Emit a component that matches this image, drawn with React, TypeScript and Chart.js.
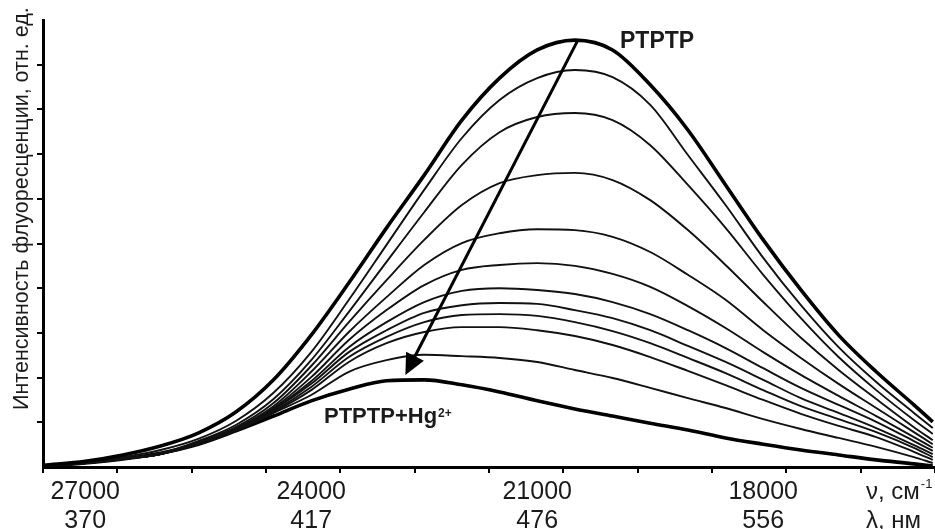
import React, { useEffect, useRef } from "react";
import { Chart, registerables } from "chart.js";

Chart.register(...registerables);

// wavenumber, cm^-1 (left to right)
const wavenumbers = [27550, 27000, 26500, 26000, 25500, 25000, 24500, 24000, 23500, 23000, 22500, 22000, 21500, 21000, 20500, 20000, 19500, 19000, 18500, 18000, 17500, 17000, 16500, 16000, 15750];

// fluorescence intensity, arbitrary units
const ptptp = [0.04, 0.13, 0.27, 0.47, 0.76, 1.23, 1.95, 2.95, 4.12, 5.35, 6.53, 7.76, 8.70, 9.33, 9.55, 9.33, 8.55, 7.54, 6.31, 5.08, 3.96, 2.95, 2.13, 1.39, 1.01];
const step1 = [0.02, 0.11, 0.22, 0.38, 0.63, 1.03, 1.66, 2.57, 3.74, 4.97, 6.20, 7.36, 8.21, 8.70, 8.88, 8.72, 8.10, 6.98, 5.86, 4.68, 3.62, 2.68, 1.90, 1.21, 0.87];
const step2 = [0.02, 0.09, 0.18, 0.31, 0.58, 0.94, 1.52, 2.39, 3.47, 4.59, 5.70, 6.76, 7.49, 7.83, 7.92, 7.76, 7.20, 6.31, 5.35, 4.30, 3.33, 2.46, 1.72, 1.05, 0.74];
const step3 = [0.02, 0.09, 0.18, 0.29, 0.56, 0.89, 1.43, 2.26, 3.24, 4.18, 5.08, 5.86, 6.35, 6.53, 6.58, 6.42, 5.97, 5.30, 4.52, 3.69, 2.89, 2.17, 1.52, 0.89, 0.60];
const step4 = [0.02, 0.09, 0.18, 0.29, 0.56, 0.87, 1.36, 2.13, 3.02, 3.80, 4.52, 5.01, 5.23, 5.32, 5.30, 5.15, 4.81, 4.30, 3.74, 3.06, 2.44, 1.86, 1.32, 0.78, 0.51];
const step5 = [0.02, 0.09, 0.18, 0.29, 0.54, 0.85, 1.32, 2.01, 2.84, 3.51, 4.07, 4.41, 4.52, 4.56, 4.50, 4.32, 4.03, 3.60, 3.11, 2.57, 2.06, 1.59, 1.14, 0.67, 0.43];
const step6 = [0.02, 0.09, 0.18, 0.29, 0.54, 0.85, 1.30, 1.92, 2.68, 3.24, 3.69, 3.94, 4.00, 3.96, 3.87, 3.69, 3.42, 3.06, 2.66, 2.21, 1.77, 1.39, 1.01, 0.58, 0.36];
const step7 = [0.02, 0.09, 0.18, 0.29, 0.54, 0.83, 1.28, 1.86, 2.57, 3.06, 3.45, 3.62, 3.67, 3.65, 3.51, 3.33, 3.06, 2.71, 2.35, 1.95, 1.54, 1.21, 0.87, 0.49, 0.29];
const step8 = [0.02, 0.09, 0.18, 0.29, 0.51, 0.83, 1.25, 1.79, 2.46, 2.91, 3.24, 3.40, 3.42, 3.38, 3.24, 3.04, 2.77, 2.44, 2.10, 1.72, 1.36, 1.07, 0.78, 0.43, 0.22];
const step9 = [0.02, 0.09, 0.18, 0.29, 0.51, 0.83, 1.23, 1.72, 2.35, 2.77, 3.02, 3.13, 3.13, 3.06, 2.93, 2.73, 2.46, 2.15, 1.83, 1.50, 1.19, 0.92, 0.67, 0.34, 0.16];
const step10 = [0.02, 0.09, 0.18, 0.29, 0.51, 0.81, 1.21, 1.61, 2.13, 2.39, 2.51, 2.48, 2.44, 2.35, 2.17, 1.99, 1.77, 1.54, 1.32, 1.07, 0.85, 0.65, 0.45, 0.22, 0.09];
const ptptpHg = [0.02, 0.09, 0.18, 0.31, 0.51, 0.81, 1.14, 1.48, 1.74, 1.93, 1.95, 1.84, 1.68, 1.48, 1.30, 1.14, 0.98, 0.83, 0.65, 0.51, 0.38, 0.27, 0.16, 0.07, 0.02];

const thinSeries = [step1, step2, step3, step4, step5, step6, step7, step8, step9, step10];

// axis labels
const nuTickLabels = [27000, 24000, 21000, 18000];
const lambdaTickLabels = ["370", "417", "476", "556"];
const yTickValues = [1, 2, 3, 4, 5, 6, 7, 8, 9];

// arrow (data coordinates): from PTPTP maximum to PTPTP+Hg curve
const arrowFrom = { nu: 20460, v: 9.55 };
const arrowTo = { nu: 22750, v: 2.06 };

const labelTop = "PTPTP";
const labelBottom = "PTPTP+Hg";
const labelBottomSup = "2+";
const yTitle = "Интенсивность флуоресценции, отн. ед.";

const FONT = '"Liberation Sans", Arial, Helvetica, sans-serif';
const INK = "#1b1b1b";

const overlay = {
  id: "overlay",
  afterDatasetsDraw(chart: any) {
    const { ctx, scales } = chart;
    const x = scales.x;
    const y = scales.y;
    ctx.save();
    const x1 = x.getPixelForValue(arrowFrom.nu);
    const y1 = y.getPixelForValue(arrowFrom.v);
    const x2 = x.getPixelForValue(arrowTo.nu);
    const y2 = y.getPixelForValue(arrowTo.v);
    const dx = x2 - x1;
    const dy = y2 - y1;
    const len = Math.hypot(dx, dy);
    const ux = dx / len;
    const uy = dy / len;
    const headLen = 21;
    const headHalf = 10;
    const bx = x2 - ux * headLen;
    const by = y2 - uy * headLen;
    ctx.strokeStyle = "#000";
    ctx.lineWidth = 3;
    ctx.beginPath();
    ctx.moveTo(x1, y1);
    ctx.lineTo(bx + ux * 2, by + uy * 2);
    ctx.stroke();
    ctx.fillStyle = "#000";
    ctx.beginPath();
    ctx.moveTo(x2, y2);
    ctx.lineTo(bx - uy * headHalf, by + ux * headHalf);
    ctx.lineTo(bx + uy * headHalf, by - ux * headHalf);
    ctx.closePath();
    ctx.fill();
    ctx.restore();
  },
  afterDraw(chart: any) {
    const { ctx, scales, chartArea } = chart;
    const x = scales.x;
    ctx.save();
    ctx.fillStyle = INK;
    ctx.textBaseline = "alphabetic";

    ctx.font = `25px ${FONT}`;
    ctx.textAlign = "center";
    const row1 = chartArea.bottom + 32;
    const row2 = chartArea.bottom + 61;
    nuTickLabels.forEach((v, i) => {
      const px = x.getPixelForValue(v);
      ctx.fillText(String(v), px, row1);
      ctx.fillText(lambdaTickLabels[i], px, row2);
    });

    ctx.textAlign = "left";
    const ux = 866;
    ctx.font = `24px ${FONT}`;
    ctx.fillText("ν, см", ux, row1);
    const w = ctx.measureText("ν, см").width;
    ctx.font = `13px ${FONT}`;
    ctx.fillText("-1", ux + w + 1, row1 - 11);
    ctx.font = `24px ${FONT}`;
    ctx.fillText("λ, нм", ux, row2);

    ctx.font = `bold 23px ${FONT}`;
    ctx.fillText(labelTop, 620, 48);
    ctx.font = `bold 22px ${FONT}`;
    ctx.fillText(labelBottom, 324, 423);
    const wb = ctx.measureText(labelBottom).width;
    ctx.font = `bold 12px ${FONT}`;
    ctx.fillText(labelBottomSup, 324 + wb + 1, 417);

    ctx.save();
    ctx.translate(28, 410);
    ctx.rotate(-Math.PI / 2);
    ctx.font = `21.5px ${FONT}`;
    ctx.textAlign = "left";
    ctx.fillText(yTitle, 0, 0);
    ctx.restore();

    ctx.restore();
  },
};

export default function App() {
  const ref = useRef<HTMLCanvasElement | null>(null);

  useEffect(() => {
    if (!ref.current) return;
    const mk = (vals: number[]) => wavenumbers.map((nu, i) => ({ x: nu, y: vals[i] }));
    const datasets: any[] = [];
    datasets.push({ data: mk(ptptp), borderColor: "#000", borderWidth: 3.6 });
    thinSeries.forEach((s) => datasets.push({ data: mk(s), borderColor: "#111", borderWidth: 1.9 }));
    datasets.push({ data: mk(ptptpHg), borderColor: "#000", borderWidth: 3.6 });
    datasets.forEach((d) => {
      d.pointRadius = 0;
      d.fill = false;
      d.cubicInterpolationMode = "monotone";
    });

    const chart = new Chart(ref.current, {
      type: "line",
      data: { datasets },
      plugins: [overlay],
      options: {
        animation: false,
        responsive: false,
        devicePixelRatio: 1,
        layout: { padding: { top: 20, right: 0, left: 0, bottom: 0 } },
        plugins: { legend: { display: false }, tooltip: { enabled: false } },
        scales: {
          x: {
            type: "linear",
            reverse: true,
            min: 15720,
            max: 27560,
            afterFit: (s: any) => {
              s.height = 62;
            },
            ticks: { display: false, stepSize: 1000, includeBounds: false },
            grid: { drawOnChartArea: false, drawTicks: true, tickLength: 6, color: "#000", lineWidth: 2 },
            border: { display: true, color: "#000", width: 3 },
          },
          y: {
            type: "linear",
            min: 0,
            max: 10,
            afterFit: (s: any) => {
              s.width = 43;
            },
            afterBuildTicks: (s: any) => {
              s.ticks = yTickValues.map((v) => ({ value: v }));
            },
            ticks: { display: false },
            grid: { drawOnChartArea: false, drawTicks: true, tickLength: 6, color: "#000", lineWidth: 2 },
            border: { display: true, color: "#000", width: 3 },
          },
        },
      },
    });
    return () => chart.destroy();
  }, []);

  return (
    <div style={{ position: "absolute", left: 0, top: 0, width: 935, height: 529, background: "#fff" }}>
      <canvas ref={ref} width={935} height={529} />
    </div>
  );
}
